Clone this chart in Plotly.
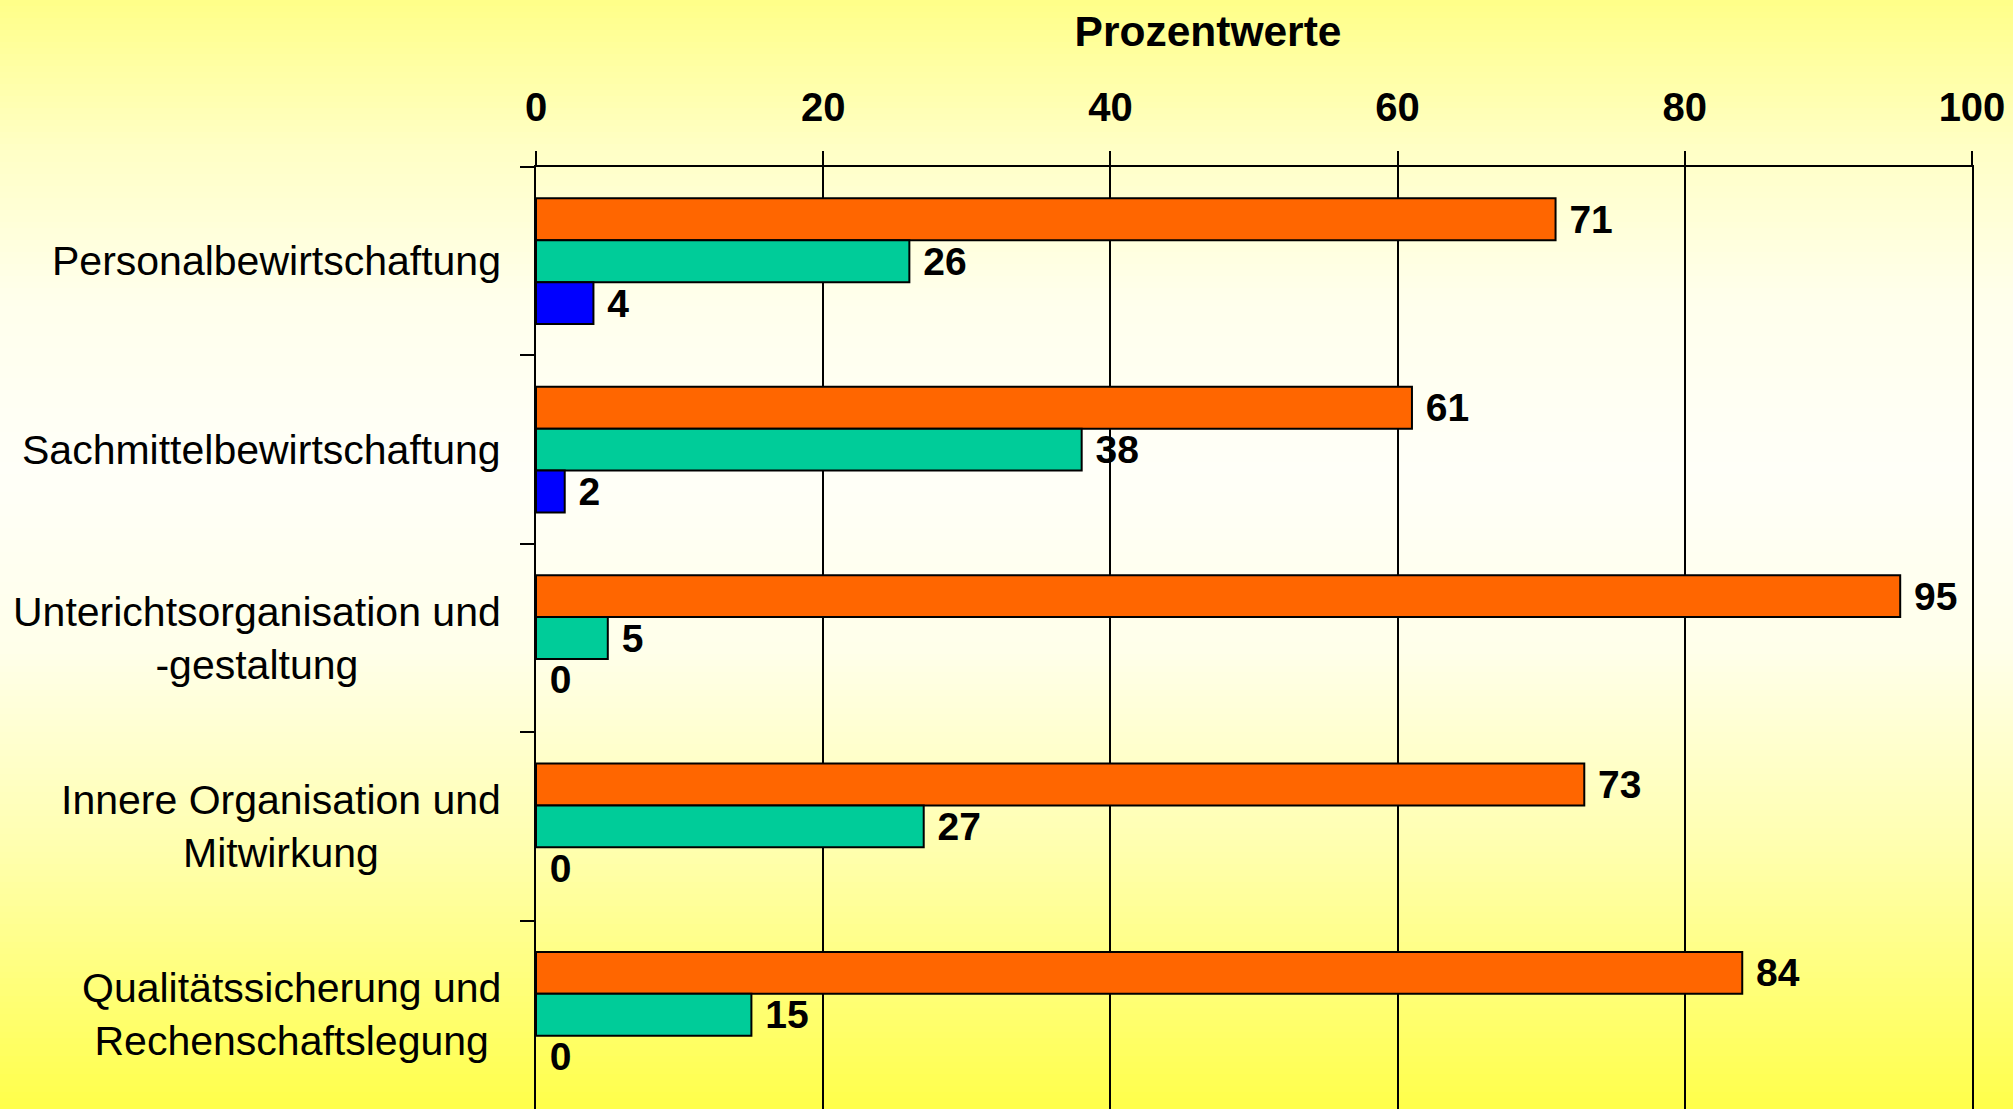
import plotly.graph_objects as go

# ---- data ----
categories = [
    "Personalbewirtschaftung",
    "Sachmittelbewirtschaftung",
    "Unterichtsorganisation und -gestaltung",
    "Innere Organisation und Mitwirkung",
    "Qualitätssicherung und Rechenschaftslegung",
]
category_labels = [
    "Personalbewirtschaftung",
    "Sachmittelbewirtschaftung",
    "Unterichtsorganisation und<br>-gestaltung",
    "Innere Organisation und<br>Mitwirkung",
    "Qualitätssicherung und<br>Rechenschaftslegung",
]
series_names = ["Serie 1", "Serie 2", "Serie 3"]
series_orange = [71, 61, 95, 73, 84]
series_teal = [26, 38, 5, 27, 15]
series_blue = [4, 2, 0, 0, 0]
x_ticks = [0, 20, 40, 60, 80, 100]
axis_title = "Prozentwerte"

# ---- style ----
W, H = 2013, 1109
ML, MR, MT, MB = 536, 41, 167, 0
FONT = "Liberation Sans, Arial, sans-serif"
colors = ["#FF6600", "#00CC99", "#0000FF"]

fig = go.Figure()
for name, vals, col in zip(series_names, [series_orange, series_teal, series_blue], colors):
    fig.add_trace(go.Bar(
        y=categories, x=vals, orientation="h", name=name,
        marker=dict(color=col, line=dict(color="black",
                                         width=[2 if v > 0 else 0 for v in vals])),
        texttemplate="\u00a0%{x}", textposition="outside",
        textfont=dict(family=FONT, size=39, color="black", weight="bold"),
        constraintext="none", cliponaxis=False, showlegend=False,
        hoverinfo="skip",
    ))

# background gradient (vertical) built from stripes in paper coords
stops = [(0, (255, 255, 136)), (150, (255, 255, 198)), (300, (255, 255, 236)),
         (470, (255, 255, 248)), (650, (255, 255, 234)), (850, (255, 255, 174)),
         (1109, (255, 255, 74))]
plot_h = H - MT - MB
plot_w = W - ML - MR

def col_at(py):
    for (p0, c0), (p1, c1) in zip(stops[:-1], stops[1:]):
        if p0 <= py <= p1:
            t = (py - p0) / (p1 - p0)
            return tuple(round(a + (b - a) * t) for a, b in zip(c0, c1))
    return stops[-1][1]

shapes = []
step = 6
for py in range(0, H, step):
    c = col_at(py + step / 2)
    shapes.append(dict(
        type="rect", xref="paper", yref="paper", layer="below",
        x0=-ML / plot_w, x1=(W - ML) / plot_w,
        y0=(H - MB - py - step - 1) / plot_h, y1=(H - MB - py) / plot_h,
        fillcolor="rgb(%d,%d,%d)" % c, line=dict(width=0),
    ))

annotations = []
for cat, lab in zip(categories, category_labels):
    annotations.append(dict(
        text=lab, xref="paper", yref="y", x=(503 - ML) / plot_w, y=cat,
        xanchor="right", yanchor="middle", align="center", showarrow=False,
        font=dict(family=FONT, size=41, color="black"),
    ))

fig.update_layout(
    width=W, height=H,
    margin=dict(l=ML, r=MR, t=MT, b=MB, autoexpand=False),
    paper_bgcolor="#FFFFF0", plot_bgcolor="rgba(0,0,0,0)",
    barmode="group", bargap=0.333, bargroupgap=0,
    shapes=shapes, annotations=annotations,
    title=dict(text="<b>" + axis_title + "</b>", xref="container", x=1208 / W,
               xanchor="center", yref="container", y=1 - 31 / H, yanchor="middle",
               font=dict(family=FONT, size=42.5, color="black")),
    xaxis=dict(
        side="top", range=[0, 100], tickvals=x_ticks, ticktext=[str(v) for v in x_ticks],
        showgrid=True, gridcolor="black", gridwidth=2, zeroline=False,
        showline=True, linecolor="black", linewidth=2,
        ticks="outside", ticklen=14, tickwidth=2, tickcolor="black",
        ticklabelstandoff=14,
        tickfont=dict(family=FONT, size=40, color="black", weight="bold"),
        automargin=False, fixedrange=True,
    ),
    yaxis=dict(
        type="category", categoryorder="array", categoryarray=categories,
        autorange="reversed", showticklabels=False, showgrid=False, zeroline=False,
        showline=True, linecolor="black", linewidth=2, mirror=True,
        ticks="outside", ticklen=14, tickwidth=2, tickcolor="black",
        tickson="boundaries", automargin=False, fixedrange=True,
    ),
)

fig.write_html("out.html", config={"displayModeBar": False},
               post_script="document.body.style.margin='0';document.body.style.overflow='hidden';")
